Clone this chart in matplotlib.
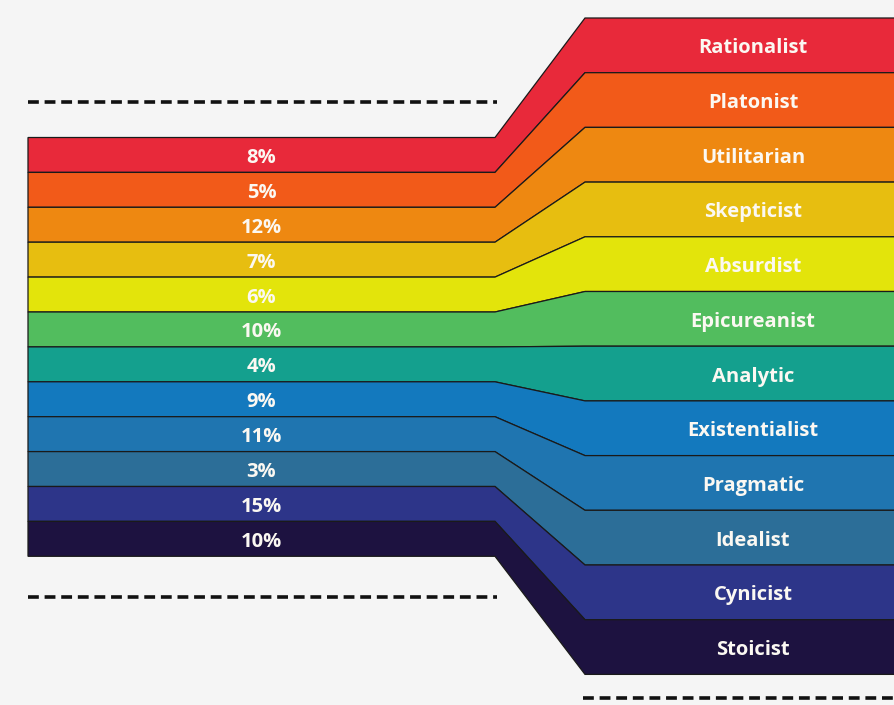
import matplotlib
matplotlib.use("Agg")
import matplotlib.pyplot as plt
from matplotlib.patches import Polygon

# bands, top to bottom
schools = ["Rationalist", "Platonist", "Utilitarian", "Skepticist", "Absurdist",
           "Epicureanist", "Analytic", "Existentialist", "Pragmatic", "Idealist",
           "Cynicist", "Stoicist"]
shares = [8, 5, 12, 7, 6, 10, 4, 9, 11, 3, 15, 10]
colors = ["#E8293A", "#F25A19", "#EE8811", "#E7BE10", "#E3E40B", "#52BD5E",
          "#14A08E", "#1379BE", "#1F75B0", "#2C6E98", "#2D3589", "#1D1240"]

W, H = 895, 705
fig = plt.figure(figsize=(W / 100, H / 100), dpi=100)
fig.patch.set_facecolor("#F5F5F5")
ax = fig.add_axes([0, 0, 1, 1])
ax.set_xlim(0, W)
ax.set_ylim(H, 0)
ax.axis("off")

# layout (pixel-ish units)
x0, x1, x2, x3 = 28, 495, 585, 895
left_top, left_h = 137.5, 34.9
right_top, right_h = 18, 54.7

font = ["Open Sans", "DejaVu Sans"]
txt = "#FBF8F2"
n = len(schools)
for i in range(n):
    lt = left_top + i * left_h
    lb = lt + left_h
    rt = right_top + i * right_h
    rb = rt + right_h
    pts = [(x0, lt), (x1, lt), (x2, rt), (x3 + 5, rt),
           (x3 + 5, rb), (x2, rb), (x1, lb), (x0, lb)]
    ax.add_patch(Polygon(pts, closed=True, facecolor=colors[i],
                         edgecolor="#1a1a1a", linewidth=0.9, joinstyle="miter"))
    ax.text((x0 + x1) / 2, lt + left_h / 2 + 3, f"{shares[i]}%", color=txt,
            fontsize=14.5, fontweight="bold", family=font,
            ha="center", va="center")
    ax.text(753, rt + right_h / 2 + 3, schools[i], color=txt,
            fontsize=14.5, fontweight="bold", family=font,
            ha="center", va="center")

# dashed guide lines
dash = dict(color="#111111", linewidth=2.6, linestyle=(0, (3.0, 1.6)))
ax.plot([x0, 497], [102, 102], **dash)
ax.plot([x0, 497], [597, 597], **dash)
ax.plot([583, W], [698, 698], **dash)

fig.savefig("out.png", dpi=100, facecolor=fig.get_facecolor())
